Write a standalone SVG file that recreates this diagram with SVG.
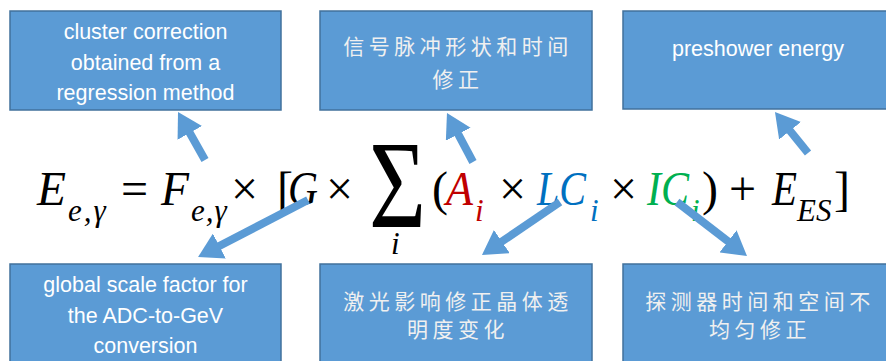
<svg xmlns="http://www.w3.org/2000/svg" width="886" height="361" viewBox="0 0 886 361">
<style>
.box{fill:#5B9BD5;stroke:#41719C;stroke-width:1.5}
.en{font-family:"Liberation Sans","DejaVu Sans",sans-serif;font-size:21.5px;fill:#FFFFFF;text-anchor:middle}
.zh{font-family:"Noto Sans CJK SC",sans-serif;font-size:21px;fill:#F0F0F0;text-anchor:middle;letter-spacing:4.5px}
.m{font-family:"Liberation Serif","DejaVu Serif",serif;font-size:48px;fill:#000}
.mi{font-family:"Liberation Serif","DejaVu Serif",serif;font-size:48px;font-style:italic;fill:#000}
.s{font-family:"Liberation Serif","DejaVu Serif",serif;font-size:31px;font-style:italic;fill:#000}
.arr{stroke:#5B9BD5;stroke-width:8;fill:none;marker-end:url(#ah)}
</style>
<defs>
<marker id="ah" markerUnits="userSpaceOnUse" viewBox="0 0 24 28" refX="12" refY="14" markerWidth="24" markerHeight="28" orient="auto">
<path d="M0,0 L24,14 L0,28 z" fill="#5B9BD5"/>
</marker>
</defs>
<rect width="886" height="361" fill="#FFFFFF"/>
<g id="node-cluster">
<rect class="box" x="10" y="11" width="271" height="99"/>
<text class="en" x="145.5" y="39">cluster correction</text>
<text class="en" x="145.5" y="70">obtained from a</text>
<text class="en" x="145.5" y="100">regression method</text>
</g>
<g id="node-pulse">
<rect class="box" x="320" y="11" width="272" height="99"/>
<text class="zh" x="458" y="54">信号脉冲形状和时间</text>
<text class="zh" x="458" y="87">修正</text>
</g>
<g id="node-preshower">
<rect class="box" x="623" y="11" width="272" height="98"/>
<text class="en" x="758" y="56">preshower energy</text>
</g>
<g id="node-global">
<rect class="box" x="10" y="264" width="271" height="110"/>
<text class="en" x="145.5" y="292">global scale factor for</text>
<text class="en" x="145.5" y="323">the ADC-to-GeV</text>
<text class="en" x="145.5" y="353">conversion</text>
</g>
<g id="node-laser">
<rect class="box" x="320" y="264" width="272" height="110"/>
<text class="zh" x="458" y="309">激光影响修正晶体透</text>
<text class="zh" x="458" y="337">明度变化</text>
</g>
<g id="node-intercal">
<rect class="box" x="623" y="264" width="272" height="110"/>
<text class="zh" x="760" y="309">探测器时间和空间不</text>
<text class="zh" x="760" y="337">均匀修正</text>
</g>
<g id="formula">
<text class="mi" x="37" y="205" textLength="29" lengthAdjust="spacingAndGlyphs">E</text>
<text class="s" x="68" y="221" letter-spacing="2">e,γ</text>
<text class="m" x="121" y="205">=</text>
<text class="mi" x="161" y="205" textLength="28" lengthAdjust="spacingAndGlyphs">F</text>
<text class="s" x="191" y="221" letter-spacing="1">e,γ</text>
<text class="m" x="231" y="205">×</text>
<text class="m" x="277" y="205">[</text>
<text class="mi" x="288" y="205" textLength="30" lengthAdjust="spacingAndGlyphs">G</text>
<text class="m" x="326" y="205">×</text>
<text class="m" transform="translate(369,227) scale(0.79,1)" style="font-size:124px">Σ</text>
<text class="s" x="391" y="254">i</text>
<text class="m" x="432" y="205">(</text>
<text class="mi" x="446" y="205" style="fill:#C00000" textLength="27" lengthAdjust="spacingAndGlyphs">A</text>
<text class="s" x="475" y="221" style="fill:#C00000">i</text>
<text class="m" x="499" y="205">×</text>
<text class="mi" x="537" y="205" style="fill:#0070C0" textLength="49" lengthAdjust="spacingAndGlyphs">LC</text>
<text class="s" x="590" y="221" style="fill:#0070C0">i</text>
<text class="m" x="610" y="205">×</text>
<text class="mi" x="647" y="205" style="fill:#00B050" textLength="42" lengthAdjust="spacingAndGlyphs">IC</text>
<text class="s" x="691" y="221" style="fill:#00B050">i</text>
<text class="m" x="702" y="205">)</text>
<text class="m" x="729" y="205">+</text>
<text class="mi" x="772" y="205" textLength="25" lengthAdjust="spacingAndGlyphs">E</text>
<text class="s" x="797" y="221">ES</text>
<text class="m" x="834" y="205">]</text>
</g>
<g id="connectors">
<line class="arr" x1="205" y1="160" x2="183.9" y2="122.5"/>
<line class="arr" x1="473" y1="162" x2="452.6" y2="123.6"/>
<line class="arr" x1="808" y1="153" x2="782.5" y2="121.4"/>
<line class="arr" x1="308" y1="200" x2="208.7" y2="251.5"/>
<line class="arr" x1="560" y1="202" x2="491.9" y2="248.3"/>
<line class="arr" x1="677" y1="202" x2="737.5" y2="248.7"/>
</g>
</svg>
